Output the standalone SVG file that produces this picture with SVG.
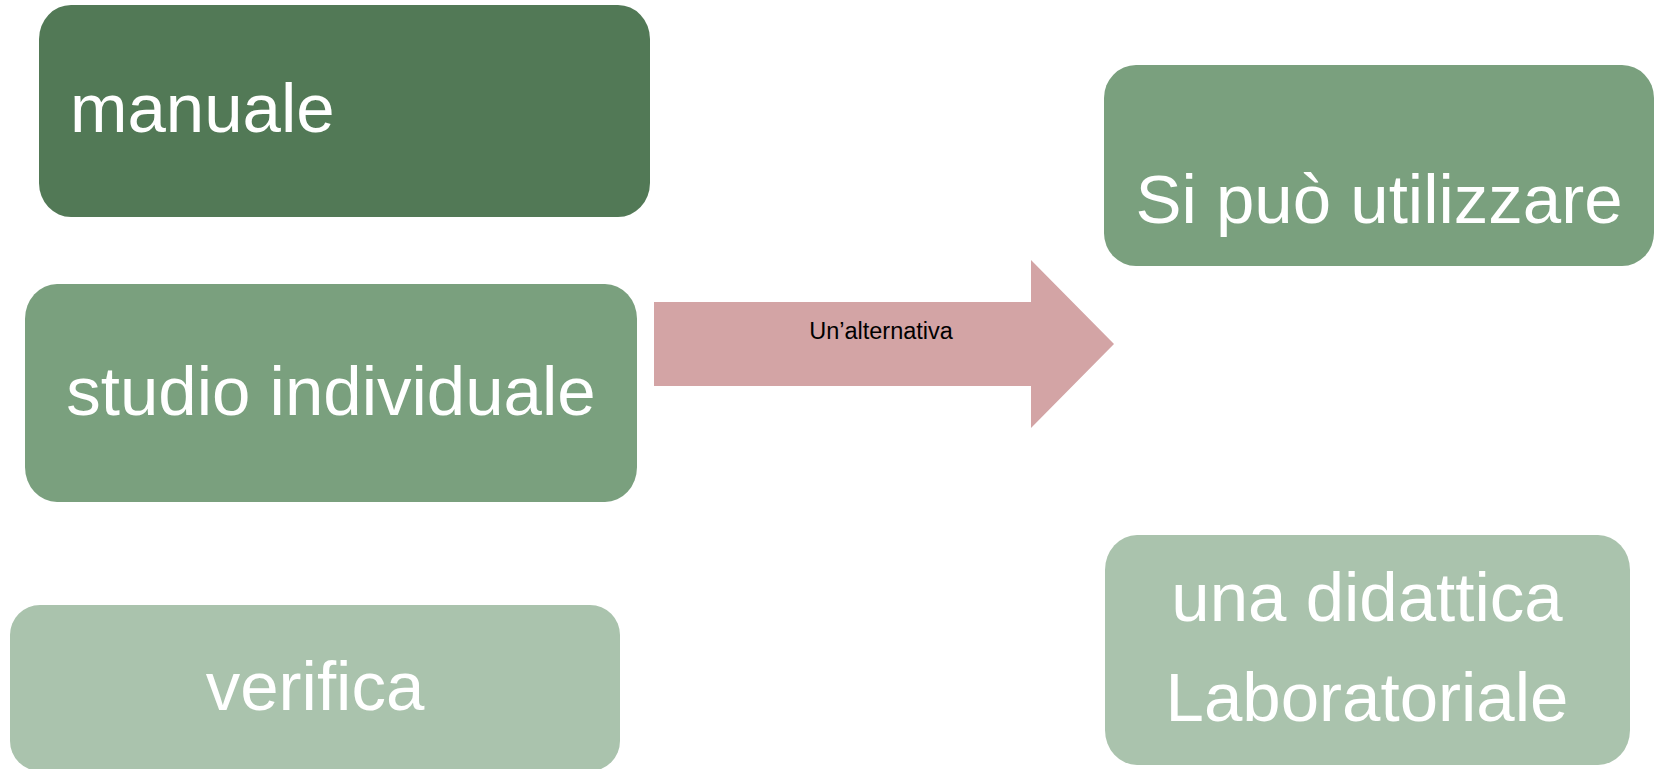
<svg xmlns="http://www.w3.org/2000/svg" width="1656" height="769" viewBox="0 0 1656 769">
<style>
.t{font-family:"Liberation Sans",Arial,sans-serif;font-size:69px;fill:#ffffff}
.c{text-anchor:middle}
.dark{fill:#527956}
.mid{fill:#7AA07E}
.light{fill:#AAC3AD}
.lbl{font-family:"Liberation Sans",Arial,sans-serif;font-size:23.5px;fill:#000000;text-anchor:middle}
</style>
<rect width="1656" height="769" fill="#ffffff"/>
<g id="connectors">
<g id="arrow">
<path d="M654,302 L1031,302 L1031,260 L1114,344 L1031,428 L1031,386 L654,386 Z" fill="#D3A4A5"/>
<text class="lbl" x="881" y="339">Un’alternativa</text>
</g>
</g>
<g id="manuale">
<rect class="dark" x="39" y="5" width="611" height="212" rx="32" ry="34"/>
<text class="t" x="70" y="132">manuale</text>
</g>
<g id="studio">
<rect class="mid" x="25" y="284" width="612" height="218" rx="32" ry="35"/>
<text class="t c" x="331" y="415">studio individuale</text>
</g>
<g id="verifica">
<rect class="light" x="10" y="605" width="610" height="166" rx="30" ry="30"/>
<text class="t c" x="315" y="710">verifica</text>
</g>
<g id="sipuo">
<rect class="mid" x="1104" y="65" width="550" height="201" rx="32" ry="33"/>
<text class="t c" x="1379" y="223">Si può utilizzare</text>
</g>
<g id="didattica">
<rect class="light" x="1105" y="535" width="525" height="230" rx="32" ry="35"/>
<text class="t c" x="1367" y="621">una didattica</text>
<text class="t c" x="1367" y="721">Laboratoriale</text>
</g>
</svg>
